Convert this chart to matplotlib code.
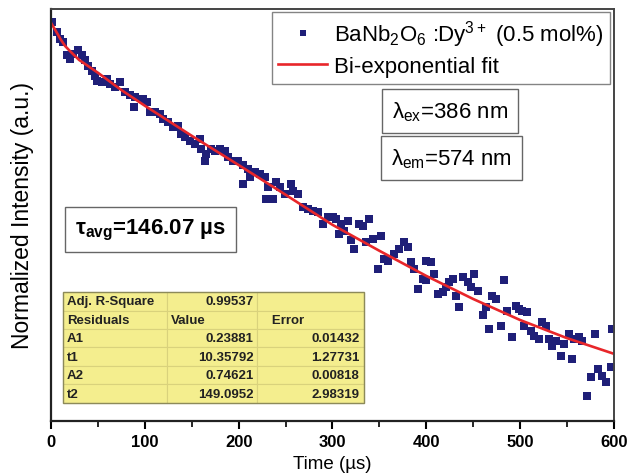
import numpy as np
import matplotlib
matplotlib.use('Agg')
import matplotlib.pyplot as plt
from matplotlib.patches import Rectangle

plt.rcParams['font.family'] = ['Liberation Sans', 'DejaVu Sans']
plt.rcParams['mathtext.default'] = 'regular'

# measured decay (time in us, normalized intensity, linear arbitrary scale)
t_data = [1.4, 6.1, 9.6, 13.1, 16.7, 20.2, 23.7, 29.0, 32.7, 36.2, 39.7, 43.3, 46.8, 48.6,
          53.9, 59.3, 62.8, 68.1, 73.4, 78.7, 84.0, 89.4, 88.6,
          98.2, 101.8, 105.3, 110.6, 116.0, 119.5, 124.8, 130.1, 135.4, 139.0, 142.6, 147.9,
          153.2, 158.5, 160.3, 165.6, 163.8, 171.0, 174.5, 179.8, 185.1, 188.6, 193.9,
          199.3, 204.6, 209.9, 211.7, 204.6, 217.0, 222.3, 227.7, 231.2, 229.5, 236.5, 240.1,
          243.6, 248.9, 256.1, 257.8, 263.1, 268.4, 273.7, 279.0, 284.4, 289.7, 295.0,
          300.3, 303.9, 309.3, 307.4, 316.3, 312.8, 319.9, 323.4, 328.7, 332.2, 339.4, 335.9,
          342.9, 351.8, 355.3, 348.2, 358.8, 366.0, 371.3, 376.6, 380.1, 383.7, 387.2, 390.7, 396.1,
          399.7, 405.0, 408.5, 399.7, 412.0, 417.3, 421.0, 424.5, 428.0, 431.6, 435.1, 438.6,
          443.9, 447.6, 451.1, 454.6, 459.9, 463.5, 467.0, 470.5, 474.1, 479.5, 483.0, 486.5,
          491.8, 495.4, 498.9,
          502.4, 507.8, 504.3, 511.4, 514.9, 520.2, 523.7, 527.3, 530.9, 534.4, 538.0, 543.3,
          546.8, 552.1, 555.6, 557.4, 562.8, 566.3, 571.6, 575.2, 579.8, 583.3, 587.6, 591.8,
          596.5, 598.2]
i_data = [0.968, 0.943, 0.927, 0.919, 0.887, 0.879, 0.891, 0.899, 0.887, 0.875, 0.862, 0.850, 0.838, 0.826,
          0.822, 0.830, 0.818, 0.810, 0.822, 0.798, 0.790, 0.786, 0.761,
          0.782, 0.774, 0.749, 0.749, 0.745, 0.733, 0.725, 0.713, 0.717, 0.697, 0.689, 0.680,
          0.672, 0.684, 0.660, 0.648, 0.632, 0.660, 0.656, 0.660, 0.656, 0.640, 0.632,
          0.632, 0.620, 0.612, 0.592, 0.575, 0.604, 0.600, 0.592, 0.567, 0.539, 0.539, 0.579,
          0.567, 0.551, 0.575, 0.559, 0.551, 0.519, 0.515, 0.510, 0.507, 0.478, 0.494,
          0.494, 0.490, 0.478, 0.454, 0.486, 0.462, 0.438, 0.417, 0.478, 0.474, 0.490, 0.434,
          0.442, 0.450, 0.393, 0.369, 0.389, 0.405, 0.417, 0.434, 0.422, 0.385, 0.369, 0.320, 0.345,
          0.389, 0.385, 0.357, 0.341, 0.308, 0.312, 0.325, 0.337, 0.345, 0.304, 0.276, 0.349,
          0.337, 0.325, 0.357, 0.316, 0.256, 0.276, 0.223, 0.304, 0.296, 0.231, 0.341, 0.268,
          0.203, 0.280, 0.272,
          0.268, 0.264, 0.231, 0.219, 0.207, 0.199, 0.240, 0.231, 0.199, 0.183, 0.195, 0.158,
          0.187, 0.211, 0.150, 0.199, 0.203, 0.195, 0.061, 0.106, 0.211, 0.126, 0.110, 0.094,
          0.130, 0.223]

# bi-exponential fit curve
t_fit = [0, 5, 10, 15, 20, 30, 50, 75, 100, 150, 200, 250, 300, 350, 400, 450, 500, 550, 600]
i_fit = [0.966, 0.947, 0.927, 0.910, 0.898, 0.876, 0.845, 0.803, 0.765, 0.692, 0.621,
         0.549, 0.476, 0.413, 0.352, 0.296, 0.245, 0.201, 0.163]

# fit report table
table_rows = [['Adj. R-Square', '0.99537', ''],
              ['Residuals', 'Value', 'Error'],
              ['A1', '0.23881', '0.01432'],
              ['t1', '10.35792', '1.27731'],
              ['A2', '0.74621', '0.00818'],
              ['t2', '149.0952', '2.98319']]

fig = plt.figure(figsize=(6.29, 4.77), dpi=100)
ax = fig.add_axes([0.0811, 0.1153, 0.895, 0.864])

ax.plot(t_data, i_data, 's', color='#1f1f78', ms=5.8, mew=0,
        label=r'BaNb$_2$O$_6$ :Dy$^{3+}$ (0.5 mol%)')
ax.plot(t_fit, i_fit, '-', color='#e8262a', lw=1.9, label='Bi-exponential fit')

ax.set_xlim(0, 600)
ax.set_ylim(0, 1)
ax.set_xticks(np.arange(0, 601, 100))
ax.set_xticks(np.arange(50, 600, 100), minor=True)
ax.set_yticks([])
ax.tick_params(axis='x', which='major', direction='out', length=6, width=1.5, pad=3,
               labelsize=12)
ax.tick_params(axis='x', which='minor', direction='out', length=4, width=1.2)
for lab in ax.get_xticklabels():
    lab.set_fontweight('bold')

for s in ['left', 'bottom']:
    ax.spines[s].set_linewidth(1.6)
    ax.spines[s].set_color('#222222')
for s in ['top', 'right']:
    ax.spines[s].set_linewidth(1.4)
    ax.spines[s].set_color('#444444')

ax.set_xlabel('Time (µs)', fontsize=13.5, labelpad=5)
ax.set_ylabel('Normalized Intensity (a.u.)', fontsize=16.5, labelpad=12)

leg = ax.legend(loc='upper right', bbox_to_anchor=(0.993, 0.993), fontsize=16,
                frameon=True, fancybox=False, borderaxespad=0, borderpad=0.3,
                handlelength=2.2, handletextpad=0.3, labelspacing=0.3, markerscale=0.8)
leg.get_frame().set_edgecolor('#666666')
leg.get_frame().set_linewidth(1.0)

box = dict(boxstyle='square,pad=0.45', facecolor='white', edgecolor='#666666', lw=1.0)
ax.text(0.709, 0.752, r'$\lambda_{ex}$=386 nm', transform=ax.transAxes, fontsize=16,
        ha='center', va='center', bbox=box)
ax.text(0.712, 0.638, r'$\lambda_{em}$=574 nm', transform=ax.transAxes, fontsize=16,
        ha='center', va='center', bbox=box)
ax.text(0.176, 0.464, r'τ$_{avg}$=146.07 µs', transform=ax.transAxes, fontsize=16,
        fontweight='bold', ha='center', va='center', bbox=box)

tab = ax.table(cellText=table_rows, colWidths=[0.3455, 0.299, 0.3555],
               bbox=[0.0213, 0.0437, 0.5347, 0.2693])
tab.auto_set_font_size(False)
for (r, c), cell in tab.get_celld().items():
    cell.set_facecolor('#f4ee8e')
    cell.set_edgecolor('#d9d27c')
    cell.set_linewidth(0.8)
    txt = cell.get_text()
    txt.set_fontsize(9.5)
    txt.set_fontweight('bold')
    txt.set_color('#222222')
    if c == 0 or r == 1:
        cell._loc = 'left'
        txt.set_horizontalalignment('left')
    else:
        cell._loc = 'right'
        txt.set_horizontalalignment('right')
    cell.PAD = 0.04
tab[1, 2].get_text().set_text('   Error')
ax.add_patch(Rectangle((0.0213, 0.0437), 0.5347, 0.2693, transform=ax.transAxes,
                       fill=False, edgecolor='#8c8a5a', lw=1.0, zorder=10))

fig.savefig('out.png', dpi=100)
